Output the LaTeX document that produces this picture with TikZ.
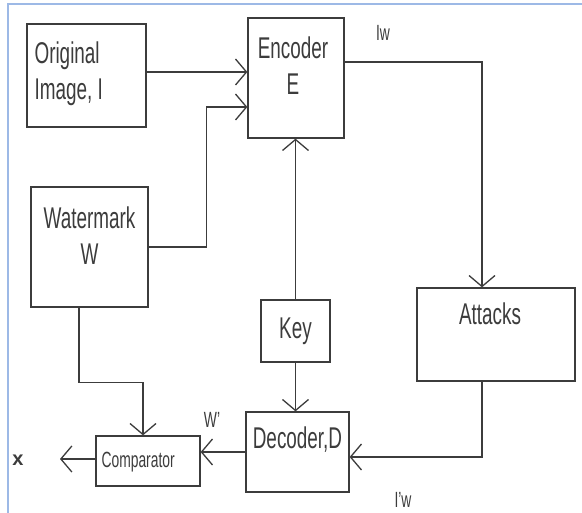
\documentclass[tikz,border=0pt]{standalone}
\usepackage{fontspec}
\setmainfont{Liberation Sans}[FakeStretch=0.63]
\newfontfamily\plainsans{Liberation Sans}
\usepackage{tikz}
\usetikzlibrary{arrows.meta}
\definecolor{lc}{HTML}{3C3C3C}
\definecolor{framecol}{HTML}{9DB9E6}

\begin{document}
\begin{tikzpicture}[x=1pt, y=-1pt,
        box/.style={draw=lc, line width=1.3pt, inner sep=0pt},
        txt/.style={inner sep=0pt, align=center, text=lc, font=\fontsize{30}{36}\selectfont},
        small/.style={inner sep=0pt, text=lc, font=\fontsize{22}{26}\selectfont},
        arr/.style={draw=lc, line width=1.3pt, -{Straight Barb[length=11pt, width=26pt]}}]
        \useasboundingbox (0,0) rectangle (582,513);
        \draw[framecol, line width=2.5pt] (8,513) -- (8,4) -- (582,4);
        \node[box, minimum width=119pt, minimum height=103pt,
          label={[txt, align=left, anchor=west, xshift=8pt, yshift=2pt]west:Original\\Image, I}] (orig) at (86.5,75.5) {};
        \node[box, minimum width=96pt, minimum height=120pt,
          label={[txt, anchor=north, xshift=-3pt, yshift=-19pt]north:Encoder\\E}] (enc) at (296,78) {};
        \node[box, minimum width=117pt, minimum height=120pt,
          label={[txt, anchor=north, yshift=-20pt]north:Watermark\\W}] (wm) at (89.5,247) {};
        \node[box, txt, minimum width=69pt, minimum height=62pt] (key) at (295.5,331) {Key};
        \node[box, minimum width=158pt, minimum height=93pt,
          label={[txt, anchor=north, xshift=-6pt, yshift=-15pt]north:Attacks}] (att) at (496,334.5) {};
        \node[box, minimum width=103pt, minimum height=80pt,
          label={[txt, anchor=north, yshift=-15pt]north:Decoder,D}] (dec) at (297.5,452) {};
        \node[box, minimum width=104pt, minimum height=50pt,
          label={[small, anchor=west, xshift=6pt, yshift=-1pt]west:Comparator}] (cmp) at (148,461) {};
        \node[small] (iw) at (383,33) {Iw};
        \node[small] (wdash) at (212,420) {W'};
        \node[small] (iwdash) at (403,500) {I'w};
        \node[inner sep=0pt, text=lc, font=\plainsans\bfseries\fontsize{20}{24}\selectfont] (xout) at (18,460) {x};
        \coordinate (xend) at (60,459);
        \draw[arr] ([yshift=3.5pt]orig.east) -- ([yshift=3.5pt]orig.east -| enc.west);
        \draw[arr] (wm.east) -| ([xshift=-41pt, yshift=-29pt]enc.west) -- ([yshift=-29pt]enc.west);
        \draw[arr] (key.north) -- (key.north |- enc.south);
        \draw[arr] ([yshift=16pt]enc.east) -| ([xshift=-14pt]att.north);
        \draw[arr] ([xshift=-14pt]att.south) |- ([yshift=-5pt]dec.east);
        \draw[arr] (key.south) -- (key.south |- dec.north);
        \draw[arr] ([xshift=-10.5pt]wm.south) -- ++(0,75) -| ([xshift=-5pt]cmp.north);
        \draw[arr] (dec.west) -- (dec.west -| cmp.east);
        \draw[arr] ([yshift=2pt]cmp.west) -- (xend);
\end{tikzpicture}
\end{document}
